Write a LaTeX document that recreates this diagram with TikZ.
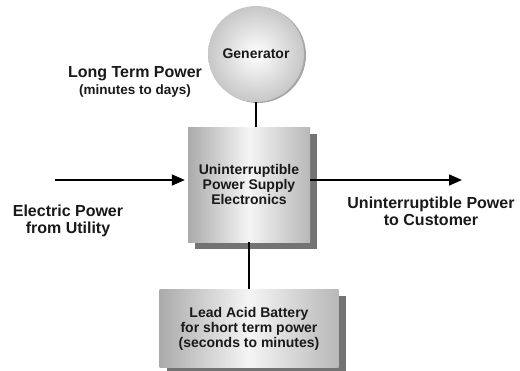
\documentclass[tikz,border=0pt]{standalone}
\usepackage{fontspec}
\setmainfont{Liberation Sans}
\usetikzlibrary{positioning,shadows,arrows.meta}

\begin{document}
\begin{tikzpicture}[x=1pt, y=-1pt, text=black!90,
        blk/.style={rectangle, left color=black!33, right color=black!28, middle color=black!4,
          drop shadow={shadow xshift=7pt, shadow yshift=-7pt, fill=black!55, opacity=1},
          align=center, font=\fontsize{14}{15}\selectfont\bfseries},
        gen/.style={circle, inner color=white, outer color=black!22, minimum size=96pt,
          drop shadow={shadow xshift=2pt, shadow yshift=-1pt, fill=black!35, opacity=1},
          font=\fontsize{14}{15}\selectfont\bfseries},
        lbl/.style={align=center, font=\fontsize{16}{17}\selectfont\bfseries},
        pline/.style={line width=1.6pt},
        parr/.style={pline, -{Triangle[length=13pt, width=11pt]}}
        ]
  \useasboundingbox (0,0) rectangle (520,370);
  \node[gen] (gen) at (256,54) {Generator};
  \node[blk, minimum width=122pt, minimum height=115pt] (ups) at (249,184.5)
    {Uninterruptible\\Power Supply\\Electronics};
  \node[blk, minimum width=179pt, minimum height=78pt, below=47pt of ups] (bat)
    {Lead Acid Battery\\for short term power\\(seconds to minutes)};
  % labels
  \node[lbl] (lterm) at (135,82) {Long Term Power\\{\fontsize{13.5}{14}\selectfont (minutes to days)}};
  \node[lbl] (util) at (68,221) {Electric Power\\from Utility};
  \node[lbl] (cust) at (431,211) {Uninterruptible Power\\to Customer};
  % connectors
  \coordinate (in) at (55,180);
  \coordinate (out) at (462,180);
  \draw[pline] (gen.south) -- (gen.south |- ups.north);
  \draw[pline] (ups.south) -- (bat.north);
  \draw[parr, shorten >=3pt] (in) -- (in -| ups.west);
  \draw[parr] (ups.east |- out) -- (out);
\end{tikzpicture}
\end{document}
